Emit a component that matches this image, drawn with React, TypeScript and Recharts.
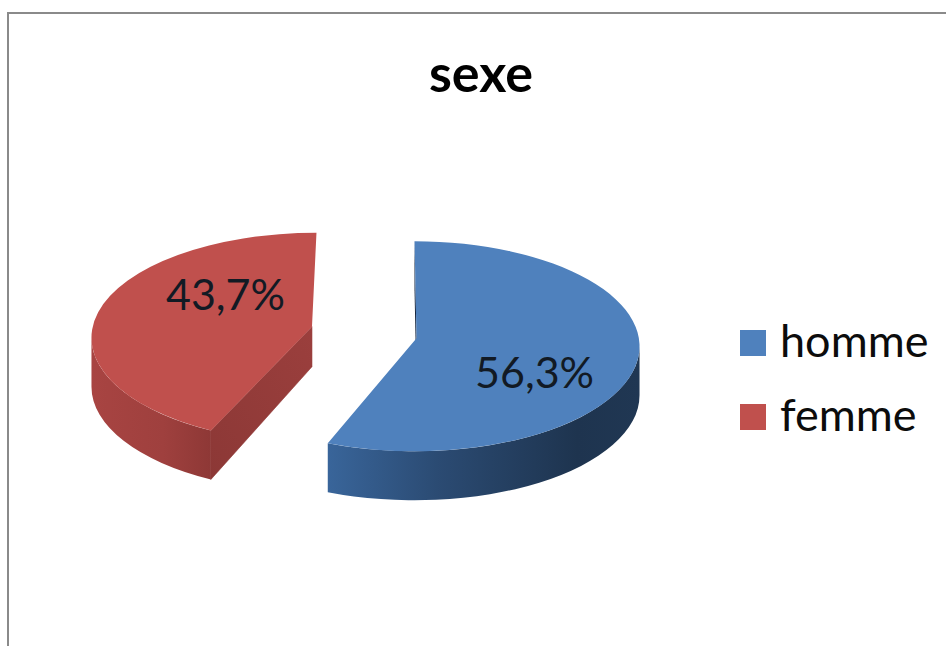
import React from "react";
import { PieChart, Pie, Legend } from "recharts";

const categories = ["homme", "femme"];
const shares = [56.3, 43.7];
const colors = ["#4f81bd", "#c0504d"];
const title = "sexe";

const rows = categories.map((name, i) => ({ name, value: shares[i], fill: colors[i] }));

const FONT = "Lato, Carlito, sans-serif";
const CX = 365.5;
const CY = 334;
const R = 225;
const RY = 105;
const SQUASH = 0.435;
const EXPLODE = 50;
const DEPTH = 49;
const ARC_DROP = 8;

// Hand-tuned perspective corrections for the 3D look, one per slice.
const looks = [
  { wall: "url(#blueWall)", cut: "#16263e", trim: 0, apex: [2, 0], cutDepth: 49, label: [120, 33] },
  { wall: "url(#redWall)", cut: "url(#redCut)", trim: 5.3, apex: [-4.5, -3], cutDepth: 40, label: [-91, -36] },
];

const offset = (startAngle: number, endAngle: number) => {
  const mid = ((90 - startAngle + (90 - endAngle)) / 2) * (Math.PI / 180);
  return [EXPLODE * Math.sin(mid), -EXPLODE * SQUASH * Math.cos(mid)];
};

const Slice3D = (props: any) => {
  const { startAngle, endAngle, fill, index } = props;
  const i = index ?? categories.indexOf(props.name ?? props.payload?.name);
  const look = looks[i];
  const [ox, oy] = offset(startAngle, endAngle);
  const ex = props.cx + ox;
  const ey = props.cy + oy + ARC_DROP;
  const t0 = 90 - startAngle + look.trim;
  const t1 = 90 - endAngle;
  const pt = (t: number, drop = 0) => {
    const a = (t * Math.PI) / 180;
    return [ex + R * Math.sin(a), ey - RY * Math.cos(a) + drop];
  };
  const arc = (from: number, to: number, drop = 0) => {
    const [x, y] = pt(to, drop);
    const large = Math.abs(to - from) > 180 ? 1 : 0;
    const sweep = to > from ? 1 : 0;
    return `A${R} ${RY} 0 ${large} ${sweep} ${x} ${y}`;
  };
  const ax = props.cx + ox + look.apex[0];
  const ay = props.cy + oy + look.apex[1];
  const p0 = pt(t0);
  const p1 = pt(t1);
  const w0 = Math.max(t0, 90);
  const w1 = Math.min(t1, 270);
  const wS = pt(w0);
  const wE = pt(w1);
  const wall = `M${wS[0]} ${wS[1]}${arc(w0, w1)}L${wE[0]} ${wE[1] + DEPTH}${arc(w1, w0, DEPTH)}Z`;
  const top = `M${ax} ${ay}L${p0[0]} ${p0[1]}${arc(t0, t1)}Z`;
  const cut = `M${p0[0]} ${p0[1]}L${ax} ${ay}L${ax} ${ay + look.cutDepth}L${p0[0]} ${p0[1] + DEPTH}Z`;
  const back = `M${p0[0]} ${p0[1]}L${ax} ${ay}L${ax} ${ay + look.cutDepth}L${p0[0]} ${p0[1] + look.cutDepth}Z`;
  return (
    <g>
      {i === 0 && <path d={back} fill="#16263e" />}
      <path d={wall} fill={look.wall} />
      {i === 1 && <path d={cut} fill={look.cut} stroke={look.cut} strokeWidth={0.6} />}
      <path d={top} fill={fill} />
    </g>
  );
};

const renderLabel = (props: any) => {
  const i = props.index;
  const [ox, oy] = offset(props.startAngle, props.endAngle);
  return (
    <text
      x={CX + ox + looks[i].label[0]}
      y={CY + oy + looks[i].label[1]}
      textAnchor="middle"
      dominantBaseline="central"
      fontFamily={FONT}
      fontSize={43}
      fill="#121a24"
    >
      {shares[i].toFixed(1).replace(".", ",") + "%"}
    </text>
  );
};

const LegendBox = () => (
  <div style={{ fontFamily: FONT, fontSize: 45, color: "#0c0c0c" }}>
    {categories.map((name, i) => (
      <div key={name} style={{ display: "flex", alignItems: "center", height: 74 }}>
        <span style={{ display: "block", width: 26, height: 26, background: colors[i], marginRight: 14 }} />
        <span style={{ position: "relative", top: -3 }}>{name}</span>
      </div>
    ))}
  </div>
);

export default function App() {
  return (
    <div style={{ position: "absolute", left: 0, top: 0, width: 946, height: 646, background: "#fff", overflow: "hidden" }}>
      <div
        style={{
          position: "absolute",
          left: 7,
          top: 12,
          right: 0,
          bottom: 0,
          borderLeft: "2px solid #8a8a8a",
          borderTop: "2px solid #8a8a8a",
        }}
      />
      <PieChart width={946} height={646} margin={{ top: 0, right: 0, bottom: 0, left: 0 }} style={{ position: "absolute", left: 0, top: 0 }}>
        <defs>
          <linearGradient id="blueWall" x1="0" y1="0" x2="1" y2="0">
            <stop offset="0" stopColor="#39659a" />
            <stop offset="0.35" stopColor="#2b4b73" />
            <stop offset="0.8" stopColor="#1e344f" />
            <stop offset="1" stopColor="#203753" />
          </linearGradient>
          <linearGradient id="redWall" x1="0" y1="0" x2="1" y2="0">
            <stop offset="0" stopColor="#a84442" />
            <stop offset="0.6" stopColor="#9f403e" />
            <stop offset="1" stopColor="#8e3836" />
          </linearGradient>
          <linearGradient id="redCut" x1="0" y1="1" x2="1" y2="0">
            <stop offset="0" stopColor="#8c3836" />
            <stop offset="1" stopColor="#9b3f3d" />
          </linearGradient>
        </defs>
        <text x={481} y={72} textAnchor="middle" dominantBaseline="central" fontFamily={FONT} fontWeight={700} fontSize={52} fill="#000">
          {title}
        </text>
        <Pie
          data={rows}
          dataKey="value"
          nameKey="name"
          cx={CX}
          cy={CY}
          innerRadius={0}
          outerRadius={R}
          startAngle={90}
          endAngle={-270}
          paddingAngle={0}
          stroke="none"
          isAnimationActive={false}
          shape={Slice3D}
          label={renderLabel}
          labelLine={false}
        />
        <Legend
          layout="vertical"
          content={<LegendBox />}
          wrapperStyle={{ position: "absolute", left: 740, top: 306, width: 206, margin: 0 }}
        />
      </PieChart>
    </div>
  );
}
